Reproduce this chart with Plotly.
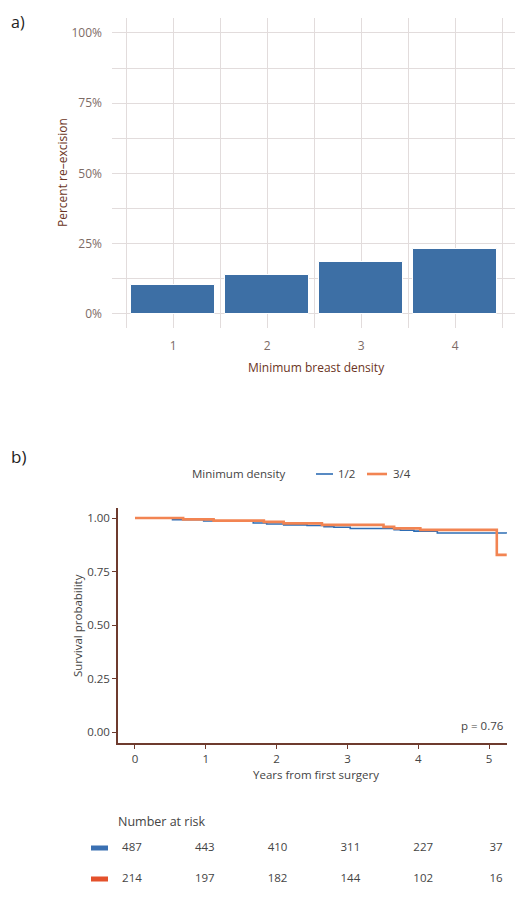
import plotly.graph_objects as go

# page body adds an 8px margin; the figure is sized and positioned to compensate
OFF = 8
W, H = 523 - OFF, 900 - OFF
FONT = "Open Sans"

# ---- data: panel a ----
density_cats = [1, 2, 3, 4]
reexcision_pct = [0.104, 0.138, 0.186, 0.231]

# ---- data: panel b (Kaplan-Meier steps) ----
km_t_12 = [0, 0.53, 0.97, 1.67, 1.86, 2.10, 2.43, 2.67, 2.81, 3.04, 3.66, 3.75, 3.94, 4.27, 5.25]
km_s_12 = [1.0, 0.992, 0.986, 0.977, 0.972, 0.968, 0.965, 0.960, 0.957, 0.951, 0.946, 0.943, 0.939, 0.930, 0.929]
km_t_34 = [0, 0.68, 1.11, 1.82, 2.10, 2.64, 3.51, 3.66, 4.03, 5.11, 5.25]
km_s_34 = [1.0, 0.994, 0.988, 0.982, 0.975, 0.968, 0.959, 0.952, 0.945, 0.828, 0.828]

risk_times = [0, 1, 2, 3, 4, 5]
risk_12 = [487, 443, 410, 311, 227, 37]
risk_34 = [214, 197, 182, 144, 102, 16]

BAR_BLUE = "#3D6FA5"
KM_BLUE = "#2E6DB4"
KM_ORANGE = "#F28452"
RISK_ORANGE = "#E4512B"
RISK_BLUE = "#3A70B2"
AXIS_BROWN = "#6E3B2E"


def px_x(p):
    return (p - OFF) / W


def px_y(p):
    return 1 - (p - OFF) / H


fig = go.Figure()

# panel a bars
fig.add_trace(go.Bar(
    x=density_cats, y=reexcision_pct, width=0.9,
    marker=dict(color=BAR_BLUE, line=dict(color="white", width=1)),
    xaxis="x", yaxis="y", showlegend=False,
))

# panel b KM curves
fig.add_trace(go.Scatter(
    x=km_t_12, y=km_s_12, mode="lines", line=dict(color=KM_BLUE, width=1.6, shape="hv"),
    name="1/2", xaxis="x2", yaxis="y2", showlegend=False,
))
fig.add_trace(go.Scatter(
    x=km_t_34, y=km_s_34, mode="lines", line=dict(color=KM_ORANGE, width=2.6, shape="hv"),
    name="3/4", xaxis="x2", yaxis="y2", showlegend=False,
))

# risk table
fig.add_trace(go.Scatter(
    x=risk_times, y=[2] * len(risk_times), mode="text",
    text=[str(v) for v in risk_12], textfont=dict(family=FONT, size=11.5, color="#444"),
    xaxis="x3", yaxis="y3", showlegend=False, hoverinfo="skip",
))
fig.add_trace(go.Scatter(
    x=risk_times, y=[1] * len(risk_times), mode="text",
    text=[str(v) for v in risk_34], textfont=dict(family=FONT, size=11.5, color="#444"),
    xaxis="x3", yaxis="y3", showlegend=False, hoverinfo="skip",
))

grid_col = "#E2DCDC"
tick_col_a = "#7D6B66"

fig.update_layout(
    width=W, height=H,
    margin=dict(l=0, r=0, t=0, b=0),
    paper_bgcolor="white", plot_bgcolor="white",
    font=dict(family=FONT, color="#444"),
    bargap=0,
    xaxis=dict(
        domain=[px_x(112), px_x(519)], range=[0.35, 4.68],
        tickmode="linear", tick0=1, dtick=1,
        showgrid=True, gridcolor=grid_col, gridwidth=1,
        minor=dict(tick0=0.5, dtick=1, showgrid=True, gridcolor=grid_col, gridwidth=1),
        zeroline=False, showline=False, ticks="",
        tickfont=dict(family=FONT, size=12, color=tick_col_a),
        ticklabelstandoff=9,
        anchor="y",
    ),
    yaxis=dict(
        domain=[px_y(328), px_y(18)], range=[-0.05, 1.053],
        tickvals=[0, 0.25, 0.5, 0.75, 1.0], tickformat=".0%",
        showgrid=True, gridcolor=grid_col, gridwidth=1,
        minor=dict(tickvals=[0.125, 0.375, 0.625, 0.875], showgrid=True, gridcolor=grid_col, gridwidth=1),
        zeroline=False, showline=False, ticks="",
        tickfont=dict(family=FONT, size=12, color=tick_col_a),
        ticklabelstandoff=9,
        anchor="x",
    ),
    xaxis2=dict(
        domain=[px_x(118), px_x(507)], range=[-0.24, 5.254],
        tickvals=[0, 1, 2, 3, 4, 5],
        showgrid=False, zeroline=False,
        showline=True, linecolor=AXIS_BROWN, linewidth=1.5,
        ticks="outside", ticklen=4, tickcolor=AXIS_BROWN, tickwidth=1,
        tickfont=dict(family=FONT, size=11.5, color="#444"),
        anchor="y2",
    ),
    yaxis2=dict(
        domain=[px_y(743), px_y(508)], range=[-0.051, 1.047],
        tickvals=[0, 0.25, 0.5, 0.75, 1.0], tickformat=".2f",
        showgrid=False, zeroline=False,
        showline=True, linecolor=AXIS_BROWN, linewidth=1.5,
        ticks="outside", ticklen=4, tickcolor=AXIS_BROWN, tickwidth=1,
        tickfont=dict(family=FONT, size=11.5, color="#444"),
        anchor="x2",
    ),
    xaxis3=dict(
        domain=[px_x(118), px_x(507)], range=[-0.192, 5.151],
        visible=False, anchor="y3",
    ),
    yaxis3=dict(
        domain=[px_y(894.5), px_y(832.5)], range=[0.5, 2.5],
        visible=False, anchor="x3",
    ),
)

ann = []
# panel labels
ann.append(dict(text="a)", x=px_x(9), y=px_y(9), xref="paper", yref="paper",
                xanchor="left", yanchor="top", showarrow=False,
                font=dict(family=FONT, size=16, color="#222")))
ann.append(dict(text="b)", x=px_x(9), y=px_y(457), xref="paper", yref="paper",
                xanchor="left", yanchor="middle", showarrow=False,
                font=dict(family=FONT, size=17, color="#222")))
# panel a axis titles
ann.append(dict(text="Minimum breast density", x=px_x(316), y=px_y(367), xref="paper", yref="paper",
                xanchor="center", yanchor="middle", showarrow=False,
                font=dict(family=FONT, size=12, color="#6B3424")))
ann.append(dict(text="Percent re–excision", x=px_x(62), y=px_y(173), xref="paper", yref="paper",
                xanchor="center", yanchor="middle", showarrow=False, textangle=-90,
                font=dict(family=FONT, size=12, color="#6B3424")))
# panel b axis titles
ann.append(dict(text="Years from first surgery", x=px_x(316), y=px_y(774), xref="paper", yref="paper",
                xanchor="center", yanchor="middle", showarrow=False,
                font=dict(family=FONT, size=11.5, color="#444")))
ann.append(dict(text="Survival probability", x=px_x(77), y=px_y(626), xref="paper", yref="paper",
                xanchor="center", yanchor="middle", showarrow=False, textangle=-90,
                font=dict(family=FONT, size=11.5, color="#444")))
# p-value
ann.append(dict(text="p = 0.76", x=px_x(506), y=px_y(725), xref="paper", yref="paper",
                xanchor="right", yanchor="middle", showarrow=False,
                font=dict(family=FONT, size=11.5, color="#444")))
# legend
ann.append(dict(text="Minimum density", x=px_x(190), y=px_y(473), xref="paper", yref="paper",
                xanchor="left", yanchor="middle", showarrow=False,
                font=dict(family=FONT, size=11.5, color="#444")))
ann.append(dict(text="1/2", x=px_x(336), y=px_y(473), xref="paper", yref="paper",
                xanchor="left", yanchor="middle", showarrow=False,
                font=dict(family=FONT, size=11.5, color="#444")))
ann.append(dict(text="3/4", x=px_x(391), y=px_y(473), xref="paper", yref="paper",
                xanchor="left", yanchor="middle", showarrow=False,
                font=dict(family=FONT, size=11.5, color="#444")))
# risk table title
ann.append(dict(text="Number at risk", x=px_x(116), y=px_y(821), xref="paper", yref="paper",
                xanchor="left", yanchor="middle", showarrow=False,
                font=dict(family=FONT, size=12.5, color="#444")))
fig.update_layout(annotations=ann)

shapes = [
    dict(type="line", xref="paper", yref="paper", x0=px_x(316), x1=px_x(333),
         y0=px_y(474), y1=px_y(474), line=dict(color=KM_BLUE, width=1.6)),
    dict(type="line", xref="paper", yref="paper", x0=px_x(367), x1=px_x(387),
         y0=px_y(474), y1=px_y(474), line=dict(color=KM_ORANGE, width=2.6)),
    dict(type="rect", xref="paper", yref="y3", x0=px_x(91), x1=px_x(108),
         y0=2 - 0.08, y1=2 + 0.08, fillcolor=RISK_BLUE, line=dict(width=0)),
    dict(type="rect", xref="paper", yref="y3", x0=px_x(91), x1=px_x(108),
         y0=1 - 0.08, y1=1 + 0.08, fillcolor=RISK_ORANGE, line=dict(width=0)),
]
fig.update_layout(shapes=shapes)

fig.write_html("out.html")
